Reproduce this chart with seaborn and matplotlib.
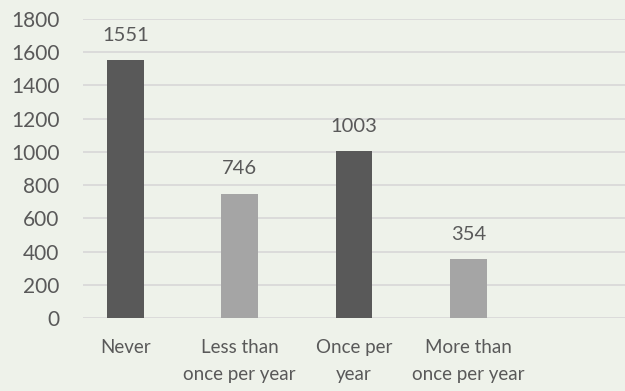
import matplotlib
matplotlib.use("Agg")
import matplotlib.pyplot as plt
import seaborn as sns
import pandas as pd

# data
categories = ["Never", "Less than\nonce per year", "Once per\nyear", "More than\nonce per year"]
counts = [1551, 746, 1003, 354]
bar_colors = ["#595959", "#A5A5A5", "#595959", "#A5A5A5"]
y_ticks = [0, 200, 400, 600, 800, 1000, 1200, 1400, 1600, 1800]

bg = "#EEF2EA"
text_col = "#595959"

sns.set_theme(style="white")
plt.rcParams["font.family"] = ["Lato", "DejaVu Sans"]

df = pd.DataFrame({"category": categories, "count": counts})

fig = plt.figure(figsize=(6.25, 3.91), dpi=100, facecolor=bg)
ax = fig.add_axes([83 / 625, 1 - 318 / 391, (625 - 83) / 625, 299 / 391])
ax.set_facecolor(bg)

sns.barplot(data=df, x="category", y="count", hue="category", palette=bar_colors,
            legend=False, width=0.32, saturation=1, linewidth=0, ax=ax, zorder=3)

ax.set_ylim(0, 1800)
ax.set_xlim(-0.37, 4.37)
ax.set_yticks(y_ticks)
ax.yaxis.grid(True, color="#D9D9D9", linewidth=1.3, zorder=0)
ax.set_axisbelow(True)
for s in ax.spines.values():
    s.set_visible(False)

ax.tick_params(axis="y", length=0, pad=17, labelsize=15, labelcolor=text_col)
ax.tick_params(axis="x", length=0, pad=15, labelsize=13.5, labelcolor=text_col)
for lbl in ax.get_xticklabels():
    lbl.set_linespacing(1.75)
ax.set_xlabel("")
ax.set_ylabel("")

# value labels above bars
for i, v in enumerate(counts):
    ax.annotate(str(v), (i, v), textcoords="offset points", xytext=(0, 12),
                ha="center", va="bottom", fontsize=14.5, color=text_col)

fig.savefig("out.png", dpi=100, facecolor=bg)
